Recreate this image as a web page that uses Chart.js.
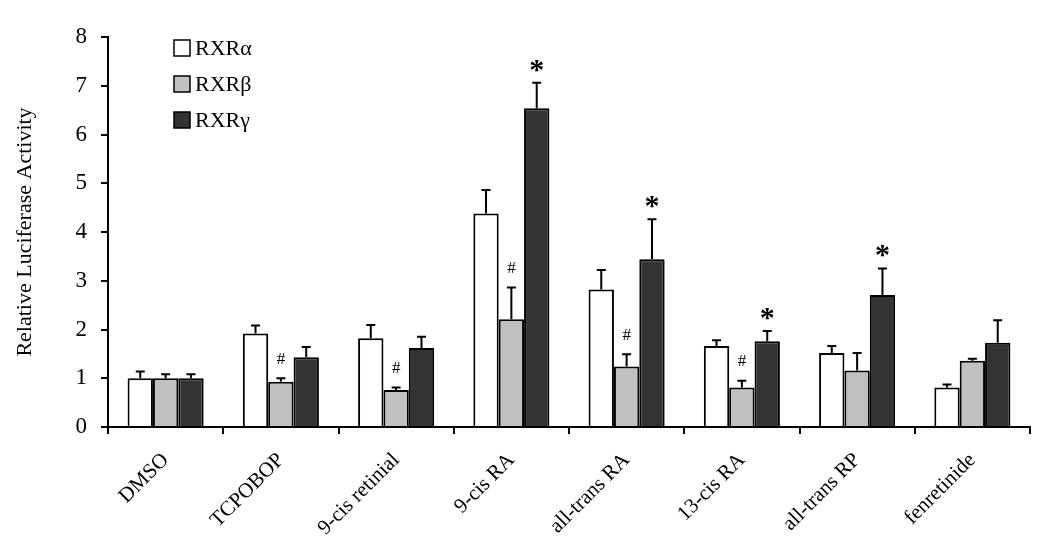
<!DOCTYPE html>
<html>
<head>
<meta charset="utf-8">
<script src="https://cdn.jsdelivr.net/npm/chart.js@4"></script>
<style>
  html, body { margin: 0; padding: 0; background: #fff; }
  #wrap { width: 1050px; height: 551px; }
</style>
</head>
<body>
<div id="wrap"><canvas id="luciferaseChart"></canvas></div>
<script>
// Categories and values
var treatments = ['DMSO', 'TCPOBOP', '9-cis retinial', '9-cis RA', 'all-trans RA', '13-cis RA', 'all-trans RP', 'fenretinide'];
var seriesNames = ['RXR\u03B1', 'RXR\u03B2', 'RXR\u03B3'];

var rxrAlpha = [1.00, 1.92, 1.82, 4.38, 2.82, 1.66, 1.52, 0.81];
var rxrBeta  = [1.00, 0.93, 0.76, 2.21, 1.24, 0.81, 1.16, 1.36];
var rxrGamma = [1.00, 1.43, 1.62, 6.54, 3.44, 1.76, 2.71, 1.73];

// upper error (SD) for each bar
var errAlpha = [0.14, 0.16, 0.27, 0.48, 0.40, 0.12, 0.14, 0.06];
var errBeta  = [0.08, 0.07, 0.05, 0.65, 0.25, 0.14, 0.36, 0.04];
var errGamma = [0.08, 0.21, 0.23, 0.52, 0.82, 0.21, 0.54, 0.46];

// significance marks
var marksBeta  = ['', '#', '#', '#', '#', '#', '', ''];
var marksGamma = ['', '', '', '*', '*', '*', '*', ''];

var yTicks = [0, 1, 2, 3, 4, 5, 6, 7, 8];

var serif = "'Liberation Serif', 'Times New Roman', serif";

// Error bars + # / * marks
var errorBarPlugin = {
    id: 'errorBars',
    afterDatasetsDraw: function(chart) {
        var ctx = chart.ctx;
        var yScale = chart.scales.y;
        var errs = [errAlpha, errBeta, errGamma];
        var marks = [null, marksBeta, marksGamma];
        ctx.save();
        chart.data.datasets.forEach(function(ds, i) {
            var meta = chart.getDatasetMeta(i);
            meta.data.forEach(function(bar, j) {
                var top = yScale.getPixelForValue(ds.data[j] + errs[i][j]);
                ctx.strokeStyle = '#000';
                ctx.lineWidth = 2;
                ctx.beginPath();
                ctx.moveTo(bar.x, bar.y);
                ctx.lineTo(bar.x, top);
                ctx.moveTo(bar.x - 4.5, top);
                ctx.lineTo(bar.x + 4.5, top);
                ctx.stroke();
                if (marks[i] && marks[i][j]) {
                    ctx.fillStyle = '#000';
                    ctx.textAlign = 'center';
                    ctx.textBaseline = 'middle';
                    if (marks[i][j] === '*') {
                        ctx.font = 'bold 30px ' + serif;
                        ctx.fillText('*', bar.x, top - 12);
                    } else {
                        ctx.font = '17px ' + serif;
                        ctx.fillText('#', bar.x, top - 19);
                    }
                }
            });
        });
        ctx.restore();
    }
};

// Vertical legend in the top-left of the plot
var legendPlugin = {
    id: 'boxLegend',
    afterDraw: function(chart) {
        var ctx = chart.ctx;
        var x0 = chart.chartArea.left + 66;
        var y0 = chart.chartArea.top + 3;
        ctx.save();
        chart.data.datasets.forEach(function(ds, i) {
            var y = y0 + i * 36;
            ctx.fillStyle = ds.backgroundColor;
            ctx.fillRect(x0, y, 16, 16);
            ctx.strokeStyle = '#000';
            ctx.lineWidth = 1.5;
            ctx.strokeRect(x0, y, 16, 16);
            ctx.fillStyle = '#000';
            ctx.font = '22px ' + serif;
            ctx.textAlign = 'left';
            ctx.textBaseline = 'middle';
            ctx.fillText(ds.label, x0 + 21, y + 9);
        });
        ctx.restore();
    }
};

var ctx = document.getElementById('luciferaseChart').getContext('2d');
var luciferaseChart = new Chart(ctx, {
    type: 'bar',
    data: {
        labels: treatments,
        datasets: [{
            label: seriesNames[0],
            data: rxrAlpha,
            backgroundColor: '#ffffff',
            borderColor: '#000000',
            borderWidth: 2
        }, {
            label: seriesNames[1],
            data: rxrBeta,
            backgroundColor: '#c0c0c0',
            borderColor: '#000000',
            borderWidth: 2
        }, {
            label: seriesNames[2],
            data: rxrGamma,
            backgroundColor: '#333333',
            borderColor: '#000000',
            borderWidth: 2
        }]
    },
    options: {
        responsive: true,
        maintainAspectRatio: false,
        animation: false,
        layout: { padding: { top: 37, right: 20, left: 0, bottom: 0 } },
        datasets: {
            bar: { categoryPercentage: 0.66, barPercentage: 1.0 }
        },
        scales: {
            x: {
                grid: { drawOnChartArea: false, drawTicks: true, tickLength: 7, color: '#000', lineWidth: 2 },
                border: { display: true, color: '#000', width: 2 },
                ticks: {
                    color: '#000',
                    font: { family: serif, size: 21 },
                    minRotation: 45,
                    maxRotation: 45,
                    padding: 14
                },
                afterFit: function(scale) { scale.height = 124; }
            },
            y: {
                min: 0,
                max: 8,
                afterBuildTicks: function(scale) {
                    scale.ticks = yTicks.map(function(v) { return { value: v }; });
                },
                grid: { drawOnChartArea: false, drawTicks: true, tickLength: 7, color: '#000', lineWidth: 2 },
                border: { display: true, color: '#000', width: 2 },
                ticks: {
                    color: '#000',
                    font: { family: serif, size: 23 },
                    padding: 14
                },
                title: {
                    display: true,
                    text: 'Relative Luciferase Activity',
                    color: '#000',
                    font: { family: serif, size: 22 },
                    padding: { top: 12, bottom: 10 }
                },
                afterFit: function(scale) { scale.width = 108; }
            }
        },
        plugins: {
            legend: { display: false },
            tooltip: { enabled: false }
        }
    },
    plugins: [errorBarPlugin, legendPlugin]
});
</script>
</body>
</html>
